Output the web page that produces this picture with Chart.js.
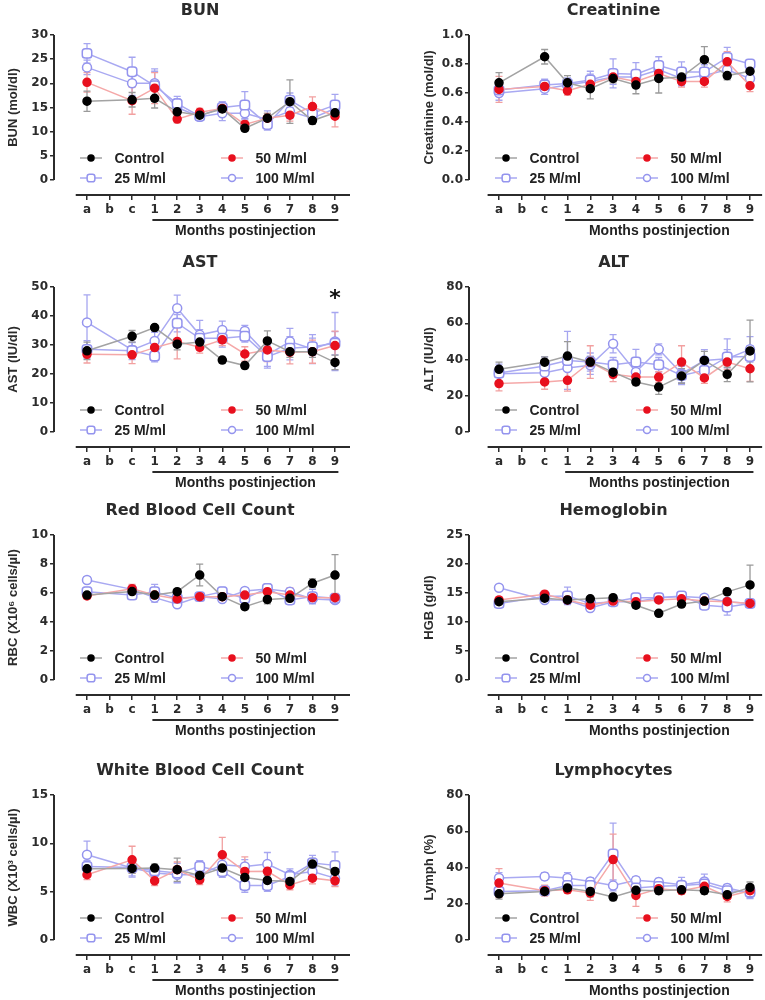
<!DOCTYPE html>
<html>
<head>
<meta charset="utf-8">
<script src="https://cdn.jsdelivr.net/npm/chart.js@4.4.1/dist/chart.umd.min.js"></script>
<style>
  html, body { margin: 0; background: #fff; overflow: hidden; }
  #fig { position: relative; width: 765px; height: 1000px; overflow: hidden; }
  .panel { position: absolute; width: 382px; height: 240px; }
  .panel.right { width: 383px; }
</style>
</head>
<body>
<div id="fig">
  <div class="panel" style="left:0;top:2px"><canvas id="bun"></canvas></div>
  <div class="panel right" style="left:382px;top:2px"><canvas id="crea"></canvas></div>
  <div class="panel" style="left:0;top:254px"><canvas id="ast"></canvas></div>
  <div class="panel right" style="left:382px;top:254px"><canvas id="alt"></canvas></div>
  <div class="panel" style="left:0;top:502px"><canvas id="rbc"></canvas></div>
  <div class="panel right" style="left:382px;top:502px"><canvas id="hgb"></canvas></div>
  <div class="panel" style="left:0;top:762px"><canvas id="wbc"></canvas></div>
  <div class="panel right" style="left:382px;top:762px"><canvas id="lymph"></canvas></div>
</div>
<script>
// x categories: three baseline draws (a, b, c) then months 1-9
const CATS = ['a', 'b', 'c', '1', '2', '3', '4', '5', '6', '7', '8', '9'];
const GROUPS = ['Control', '50 M/ml', '25 M/ml', '100 M/ml'];

// --- BUN (mol/dl) ---
const BUN_CTRL = [16.3, null, 16.6, 16.9, 14.1, 13.4, 14.7, 10.7, 12.8, 16.2, 12.3, 13.9];
const BUN_50 = [20.2, null, 16.4, 19.0, 12.6, 14.0, 14.8, 11.5, 12.8, 13.4, 15.2, 13.2];
const BUN_25 = [26.2, null, 22.4, 19.5, 15.8, 13.2, 15.0, 15.5, 11.5, 16.5, 13.8, 15.5];
const BUN_100 = [23.3, null, 20.0, 20.0, 15.0, 13.1, 13.8, 13.8, 12.5, 14.2, 12.8, 14.8];
const BUN_CTRL_SEM = [2.1, null, 1.5, 2.0, 1.0, 0.8, 1.0, 0.6, 1.0, 4.5, 0.8, 1.0];
const BUN_50_SEM = [2.0, null, 2.8, 3.2, 0.8, 0.8, 1.0, 0.8, 1.0, 1.2, 2.0, 2.2];
const BUN_25_SEM = [2.0, null, 3.0, 3.0, 1.5, 0.8, 1.2, 2.8, 1.2, 1.5, 1.5, 2.2];
const BUN_100_SEM = [1.5, null, 2.5, 3.0, 1.8, 0.8, 1.5, 1.2, 1.8, 1.5, 1.2, 1.5];

// --- Creatinine (mol/dl) ---
const CREA_CTRL = [0.67, null, 0.85, 0.67, 0.63, 0.70, 0.655, 0.70, 0.71, 0.83, 0.72, 0.75];
const CREA_50 = [0.625, null, 0.645, 0.615, 0.66, 0.71, 0.68, 0.735, 0.68, 0.68, 0.815, 0.65];
const CREA_25 = [0.62, null, 0.655, 0.665, 0.69, 0.735, 0.73, 0.79, 0.745, 0.745, 0.845, 0.80];
const CREA_100 = [0.60, null, 0.63, 0.655, 0.68, 0.71, 0.71, 0.76, 0.70, 0.72, 0.76, 0.70];
const CREA_CTRL_SEM = [0.07, null, 0.05, 0.05, 0.07, 0.03, 0.06, 0.10, 0.03, 0.09, 0.03, 0.03];
const CREA_50_SEM = [0.09, null, 0.03, 0.03, 0.04, 0.03, 0.03, 0.04, 0.04, 0.04, 0.07, 0.04];
const CREA_25_SEM = [0.04, null, 0.04, 0.04, 0.06, 0.10, 0.08, 0.06, 0.07, 0.05, 0.07, 0.03];
const CREA_100_SEM = [0.05, null, 0.04, 0.04, 0.05, 0.05, 0.05, 0.05, 0.05, 0.05, 0.06, 0.04];

// --- AST (IU/dl) ---
const AST_CTRL = [28.0, null, 33.0, 36.0, 30.3, 31.0, 24.8, 22.9, 31.4, 27.7, 27.7, 24.0];
const AST_50 = [26.8, null, 26.6, 29.1, 31.2, 29.2, 31.8, 26.9, 28.3, 27.5, 27.7, 29.8];
const AST_25 = [28.5, null, 28.0, 26.2, 37.5, 32.3, 32.3, 33.0, 26.0, 28.9, 29.4, 30.6];
const AST_100 = [37.8, null, 28.3, 31.4, 42.7, 33.5, 35.2, 34.8, 26.6, 31.2, 28.6, 31.2];
const AST_CTRL_SEM = [3, null, 2, 1, 2, 2, 1, 1, 3.5, 2, 2, 2.5];
const AST_50_SEM = [3, null, 3, 3, 6, 2, 2, 2.5, 4, 4, 4, 5];
const AST_25_SEM = [3, null, 3, 2, 3, 3, 3, 2, 4, 4, 3, 4];
const AST_100_SEM = [9.5, null, 2.5, 3, 4.5, 5, 3, 2, 4, 4.5, 5, 10];

// --- ALT (IU/dl) ---
const ALT_CTRL = [34.6, null, 38.5, 41.9, 38.6, 33.0, 27.6, 24.8, 30.9, 39.5, 31.8, 44.7];
const ALT_50 = [26.7, null, 27.6, 28.5, 38.6, 31.8, 30.3, 30.3, 38.6, 29.8, 38.6, 34.9];
const ALT_25 = [32.5, null, 36.4, 39.5, 38.6, 37.1, 38.6, 37.1, 31.2, 34.0, 41.4, 41.7];
const ALT_100 = [32.2, null, 32.7, 35.3, 36.8, 48.7, 33.1, 45.6, 32.2, 39.5, 40.4, 45.6];
const ALT_CTRL_SEM = [4, null, 3, 8, 3, 3, 2, 4, 4, 5, 4, 17];
const ALT_50_SEM = [4, null, 4, 6, 9, 4, 3, 3, 9, 3, 4, 7];
const ALT_25_SEM = [5, null, 5, 16, 5, 4, 7, 4, 5, 5, 10, 6];
const ALT_100_SEM = [4, null, 4, 8, 5, 5, 5, 3, 5, 6, 5, 7];

// --- RBC (X10^6 cells/ul) ---
const RBC_CTRL = [5.86, null, 6.10, 5.86, 6.09, 7.24, 5.75, 5.06, 5.56, 5.63, 6.67, 7.24];
const RBC_50 = [5.80, null, 6.30, 5.86, 5.59, 5.75, 5.75, 5.86, 6.09, 5.86, 5.68, 5.68];
const RBC_25 = [6.09, null, 5.86, 6.09, 5.63, 5.75, 6.09, 5.63, 6.32, 5.52, 5.75, 5.63];
const RBC_100 = [6.90, null, 6.25, 5.68, 5.22, 5.75, 5.59, 6.14, 6.28, 6.09, 5.59, 5.52];
const RBC_CTRL_SEM = [0.2, null, 0.2, 0.2, 0.2, 0.75, 0.2, 0.2, 0.3, 0.3, 0.3, 1.4];
const RBC_50_SEM = [0.2, null, 0.3, 0.2, 0.2, 0.2, 0.2, 0.2, 0.3, 0.5, 0.3, 0.3];
const RBC_25_SEM = [0.3, null, 0.3, 0.5, 0.3, 0.2, 0.3, 0.3, 0.3, 0.3, 0.5, 0.3];
const RBC_100_SEM = [0.2, null, 0.2, 0.3, 0.2, 0.2, 0.2, 0.2, 0.2, 0.2, 0.3, 0.2];

// --- Hemoglobin (g/dl) ---
const HGB_CTRL = [13.5, null, 14.1, 13.8, 14.0, 14.2, 12.9, 11.5, 13.1, 13.6, 15.2, 16.4];
const HGB_50 = [13.8, null, 14.8, 13.8, 12.9, 13.6, 13.5, 13.8, 14.0, 13.6, 13.5, 13.2];
const HGB_25 = [13.2, null, 14.4, 14.5, 13.2, 13.5, 14.2, 14.2, 14.5, 12.9, 12.6, 13.2];
const HGB_100 = [15.9, null, 13.8, 13.8, 12.4, 13.5, 13.5, 14.2, 14.4, 14.2, 13.5, 13.2];
const HGB_CTRL_SEM = [0.7, null, 0.5, 0.5, 0.4, 0.4, 0.5, 0.4, 0.5, 0.5, 0.5, 3.4];
const HGB_50_SEM = [0.5, null, 0.5, 0.5, 0.5, 0.4, 0.5, 0.5, 0.5, 0.5, 0.5, 0.5];
const HGB_25_SEM = [0.5, null, 0.5, 1.5, 0.5, 0.5, 0.5, 0.5, 0.5, 0.5, 1.4, 0.5];
const HGB_100_SEM = [0.5, null, 0.5, 0.5, 0.5, 0.5, 0.5, 0.5, 0.5, 0.5, 0.5, 0.5];

// --- WBC (X10^3 cells/ul) ---
const WBC_CTRL = [7.37, null, 7.40, 7.44, 7.27, 6.68, 7.44, 6.47, 6.16, 6.06, 7.85, 7.09];
const WBC_50 = [6.75, null, 8.30, 6.12, 7.27, 6.23, 8.82, 7.09, 7.10, 5.70, 6.40, 6.12];
const WBC_25 = [7.60, null, 7.50, 7.16, 6.92, 7.60, 7.09, 5.64, 5.64, 6.57, 7.96, 7.72];
const WBC_100 = [8.82, null, 7.44, 6.92, 6.75, 6.75, 7.79, 7.61, 7.85, 6.75, 7.09, 6.40];
const WBC_CTRL_SEM = [0.5, null, 0.5, 0.4, 1.2, 0.5, 0.5, 0.5, 0.5, 0.5, 0.6, 0.6];
const WBC_50_SEM = [0.5, null, 1.4, 0.5, 0.8, 0.5, 1.8, 1.5, 1.1, 0.5, 0.6, 0.6];
const WBC_25_SEM = [0.6, null, 1.0, 0.5, 1.0, 0.6, 0.6, 0.7, 0.6, 0.5, 0.8, 1.4];
const WBC_100_SEM = [1.4, null, 0.8, 0.5, 0.8, 0.6, 0.6, 0.7, 1.2, 0.6, 0.7, 0.8];

// --- Lymphocytes (%) ---
const LYM_CTRL = [25.5, null, 26.8, 28.7, 26.8, 23.7, 27.4, 27.2, 27.7, 27.2, 25.0, 29.0];
const LYM_50 = [31.4, null, 27.2, 27.7, 25.9, 44.4, 24.6, 28.3, 27.2, 29.6, 24.0, 27.2];
const LYM_25 = [26.8, null, 27.2, 30.1, 30.1, 47.5, 28.7, 29.6, 30.1, 30.9, 27.2, 26.4];
const LYM_100 = [34.2, null, 35.1, 34.2, 32.3, 30.1, 32.9, 32.0, 30.5, 32.3, 28.7, 25.9];
const LYM_CTRL_SEM = [3, null, 2, 2, 3, 2, 2, 2, 2, 2, 2, 3];
const LYM_50_SEM = [8, null, 3, 2, 4, 14, 6, 2, 2, 2, 3, 2];
const LYM_25_SEM = [3, null, 2, 2, 2, 17, 2, 2, 2, 2, 2, 3];
const LYM_100_SEM = [3, null, 2, 3, 2, 3, 2, 2, 4, 4, 2, 3];

const INK = '#2b2b2b';
const LAVENDER = '#9494ee';

// dataset order = GROUPS order: Control, 50, 25, 100
const SERIES_STYLE = [
  { borderColor: '#a3a3a3', pointBackgroundColor: '#000', pointBorderColor: '#000', pointStyle: 'circle', pointRadius: 4, errColor: '#9a9a9a' },
  { borderColor: '#f5a8a8', pointBackgroundColor: '#e8101e', pointBorderColor: '#e8101e', pointStyle: 'circle', pointRadius: 4, errColor: '#f2a0a0' },
  { borderColor: '#a9a9f2', pointBackgroundColor: '#fff', pointBorderColor: LAVENDER, pointStyle: 'rectRounded', pointRadius: 5.5, errColor: '#a6a6f0' },
  { borderColor: '#a9a9f2', pointBackgroundColor: '#fff', pointBorderColor: LAVENDER, pointStyle: 'circle', pointRadius: 4.5, errColor: '#a6a6f0' }
];

const PANELS = [
  { id: 'bun', col: 0, title: 'BUN', yTitle: 'BUN (mol/dl)', yMax: 30, step: 5, dec: 0,
    series: [BUN_CTRL, BUN_50, BUN_25, BUN_100], sem: [BUN_CTRL_SEM, BUN_50_SEM, BUN_25_SEM, BUN_100_SEM] },
  { id: 'crea', col: 1, title: 'Creatinine', yTitle: 'Creatinine (mol/dl)', yMax: 1.0, step: 0.2, dec: 1,
    series: [CREA_CTRL, CREA_50, CREA_25, CREA_100], sem: [CREA_CTRL_SEM, CREA_50_SEM, CREA_25_SEM, CREA_100_SEM] },
  { id: 'ast', col: 0, title: 'AST', yTitle: 'AST (IU/dl)', yMax: 50, step: 10, dec: 0, star: { at: 11, value: 47 },
    series: [AST_CTRL, AST_50, AST_25, AST_100], sem: [AST_CTRL_SEM, AST_50_SEM, AST_25_SEM, AST_100_SEM] },
  { id: 'alt', col: 1, title: 'ALT', yTitle: 'ALT (IU/dl)', yMax: 80, step: 20, dec: 0,
    series: [ALT_CTRL, ALT_50, ALT_25, ALT_100], sem: [ALT_CTRL_SEM, ALT_50_SEM, ALT_25_SEM, ALT_100_SEM] },
  { id: 'rbc', col: 0, title: 'Red Blood Cell Count', yTitle: 'RBC (X10\u2076 cells/\u00b5l)', yMax: 10, step: 2, dec: 0,
    series: [RBC_CTRL, RBC_50, RBC_25, RBC_100], sem: [RBC_CTRL_SEM, RBC_50_SEM, RBC_25_SEM, RBC_100_SEM] },
  { id: 'hgb', col: 1, title: 'Hemoglobin', yTitle: 'HGB (g/dl)', yMax: 25, step: 5, dec: 0,
    series: [HGB_CTRL, HGB_50, HGB_25, HGB_100], sem: [HGB_CTRL_SEM, HGB_50_SEM, HGB_25_SEM, HGB_100_SEM] },
  { id: 'wbc', col: 0, title: 'White Blood Cell Count', yTitle: 'WBC (X10\u00b3 cells/\u00b5l)', yMax: 15, step: 5, dec: 0,
    series: [WBC_CTRL, WBC_50, WBC_25, WBC_100], sem: [WBC_CTRL_SEM, WBC_50_SEM, WBC_25_SEM, WBC_100_SEM] },
  { id: 'lymph', col: 1, title: 'Lymphocytes', yTitle: 'Lymph (%)', yMax: 80, step: 20, dec: 0,
    series: [LYM_CTRL, LYM_50, LYM_25, LYM_100], sem: [LYM_CTRL_SEM, LYM_50_SEM, LYM_25_SEM, LYM_100_SEM] }
];

// per column: x range of the plot area and where the detached x axis ends (in category index units)
const COL_X = [
  { min: -1.464, max: 11.665, axisEnd: 11.665, padLeft: 0, padRight: 32, yWidth: 54, yTitleX: 13 },
  { min: -1.315, max: 11.306, axisEnd: 11.53, padLeft: 35, padRight: 8, yWidth: 52, yTitleX: 47.5 }
];

// mean +/- SEM whiskers, drawn under the markers
const errorBars = {
  id: 'errorBars',
  beforeDatasetsDraw(chart) {
    const { ctx, scales: { y } } = chart;
    ctx.save();
    ctx.lineWidth = 1.3;
    for (let d = chart.data.datasets.length - 1; d >= 0; d--) {
      const ds = chart.data.datasets[d];
      ctx.strokeStyle = ds.errColor;
      chart.getDatasetMeta(d).data.forEach((pt, i) => {
        const v = ds.means[i], e = ds.sem[i];
        if (v == null || e == null) return;
        const top = y.getPixelForValue(v + e);
        const bot = y.getPixelForValue(Math.max(v - e, 0));
        ctx.beginPath();
        ctx.moveTo(pt.x, top); ctx.lineTo(pt.x, bot);
        ctx.moveTo(pt.x - 3.5, top); ctx.lineTo(pt.x + 3.5, top);
        ctx.moveTo(pt.x - 3.5, bot); ctx.lineTo(pt.x + 3.5, bot);
        ctx.stroke();
      });
    }
    ctx.restore();
  }
};

// Prism-style frame: detached axes, month bracket, in-plot legend, titles
const decor = p => ({
  id: 'decor',
  afterDraw(chart) {
    const { ctx, chartArea: area, scales: { x, y } } = chart;
    const cx = COL_X[p.col];
    const y0 = y.getPixelForValue(0);
    const yTop = y.getPixelForValue(p.yMax);
    const brL = x.getPixelForValue(2.9), brR = x.getPixelForValue(11.15);
    ctx.save();

    ctx.strokeStyle = INK;
    ctx.lineWidth = 2;
    ctx.beginPath();
    ctx.moveTo(area.left, yTop); ctx.lineTo(area.left, y0);
    ctx.moveTo(x.getPixelForValue(-0.5), area.bottom); ctx.lineTo(x.getPixelForValue(cx.axisEnd), area.bottom);
    ctx.moveTo(brL, 218); ctx.lineTo(brR, 218);
    ctx.stroke();

    ctx.fillStyle = INK;
    ctx.textAlign = 'center';
    ctx.textBaseline = 'middle';
    ctx.font = 'bold 16px "DejaVu Sans"';
    ctx.fillText(p.title, (area.left + x.getPixelForValue(cx.axisEnd)) / 2 - 2, 9);

    ctx.font = 'bold 14px "Liberation Sans"';
    ctx.fillStyle = '#222';
    ctx.fillText('Months postinjection', (brL + brR) / 2, 229.5);

    // rotated y title, centred on the 0..max stretch of the axis
    ctx.save();
    ctx.translate(cx.yTitleX, (y0 + yTop) / 2);
    ctx.rotate(-Math.PI / 2);
    ctx.font = 'bold 13px "Liberation Sans"';
    ctx.fillStyle = INK;
    ctx.fillText(p.yTitle, 0, 0);
    ctx.restore();

    if (p.star) {
      ctx.font = 'bold 22px "DejaVu Sans"';
      ctx.fillStyle = '#111';
      ctx.fillText('*', x.getPixelForValue(p.star.at), y.getPixelForValue(p.star.value) + 4);
    }

    // legend: 2 x 2 grid inside the plot, just above zero
    ctx.font = 'bold 14px "Liberation Sans"';
    ctx.textAlign = 'left';
    chart.data.datasets.forEach((ds, k) => {
      const colOff = k % 2 === 0 ? 0 : 141;
      const mx = area.left + 37 + colOff;
      const my = y0 - (k < 2 ? 22 : 2);
      ctx.strokeStyle = ds.borderColor;
      ctx.lineWidth = 1.5;
      ctx.beginPath();
      ctx.moveTo(mx - 11, my); ctx.lineTo(mx + 11, my);
      ctx.stroke();
      ctx.fillStyle = ds.pointBackgroundColor;
      ctx.strokeStyle = ds.pointBorderColor;
      Chart.helpers.drawPoint(ctx, {
        pointStyle: ds.pointStyle, radius: ds.pointRadius - 1, borderWidth: 1.5, rotation: 0
      }, mx, my);
      ctx.fillStyle = '#222';
      ctx.fillText(ds.label, mx + 23.5, my + 1);
    });

    ctx.restore();
  }
});

function buildChart(p) {
  const cx = COL_X[p.col];
  const tickFont = { family: '"DejaVu Sans"', size: 12, weight: 'bold' };

  new Chart(document.getElementById(p.id), {
    type: 'line',
    data: {
      datasets: p.series.map((vals, k) => ({
        label: GROUPS[k],
        data: vals.map((v, i) => ({ x: i, y: v })),
        means: vals,
        sem: p.sem[k],
        borderWidth: 1.5,
        pointBorderWidth: 1.5,
        tension: 0,
        spanGaps: true,
        ...SERIES_STYLE[k]
      }))
    },
    options: {
      responsive: true,
      maintainAspectRatio: false,
      animation: false,
      devicePixelRatio: 1,
      layout: { padding: { top: 33, bottom: 0, left: cx.padLeft, right: cx.padRight } },
      plugins: { legend: { display: false }, tooltip: { enabled: false } },
      scales: {
        x: {
          type: 'linear',
          min: cx.min,
          max: cx.max,
          afterBuildTicks: s => { s.ticks = CATS.map((c, i) => ({ value: i })); },
          afterFit: s => { s.height = 47; },
          ticks: {
            callback: v => CATS[v],
            autoSkip: false, maxRotation: 0, minRotation: 0,
            font: tickFont, color: INK, padding: 3
          },
          grid: { drawOnChartArea: false, tickLength: 5, color: INK, lineWidth: 1.5 },
          border: { display: false }
        },
        y: {
          min: -p.yMax * 15 / 145,
          max: p.yMax,
          afterBuildTicks: s => { s.ticks = s.ticks.filter(t => t.value >= -1e-9); },
          afterFit: s => { s.width = cx.yWidth; },
          ticks: {
            stepSize: p.step,
            callback: v => Math.abs(v).toFixed(p.dec),
            font: tickFont, color: INK, padding: 2
          },
          grid: { drawOnChartArea: false, tickLength: 4, color: INK, lineWidth: 1.5 },
          border: { display: false }
        }
      }
    },
    plugins: [errorBars, decor(p)]
  });
}

PANELS.forEach(buildChart);
</script>
</body>
</html>
